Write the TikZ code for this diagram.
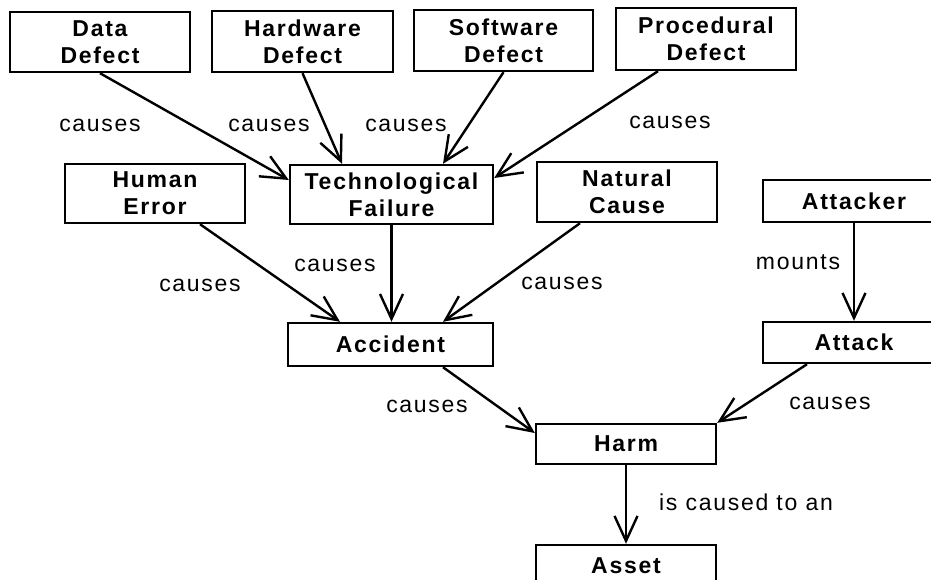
\documentclass[tikz,border=0pt]{standalone}
\usepackage{fontspec}
\setmainfont[LetterSpace=7.5]{Liberation Sans}
\usetikzlibrary{arrows.meta}
\begin{document}
\begin{tikzpicture}[x=1pt,y=-1pt,
  box/.style={draw,line width=2.4pt,inner sep=0pt,align=center,
    font=\bfseries\fontsize{23}{27}\selectfont},
  twoline/.style={box,minimum width=180pt,minimum height=60pt},
  oneline/.style={box,minimum width=180pt,minimum height=42pt},
  lbl/.style={inner sep=0pt,font=\fontsize{23}{27}\selectfont},
  rel/.style={line width=2.4pt,-{Straight Barb[length=25pt,width=23pt]}}]
\clip (0,0) rectangle (931,579);

% defects feeding a technological failure
\node[twoline] (dd) at (100,42) {Data\\Defect};
\node[twoline,minimum width=181pt,minimum height=61pt] (hd) at (302.5,41.5) {Hardware\\Defect};
\node[twoline,minimum width=179pt,minimum height=61pt] (sd) at (503.5,40.5) {Software\\Defect};
\node[twoline,minimum height=62pt] (pd) at (706,39) {Procedural\\Defect};

% direct causes of an accident
\node[twoline,minimum height=59pt] (he) at (155,193.5) {Human\\Error};
\node[twoline,minimum width=203pt,minimum height=59pt] (tf) at (391.5,194.5) {Technological\\Failure};
\node[twoline] (nc) at (627,192) {Natural\\Cause};

% deliberate branch
\node[oneline,minimum width=182pt] (atker) at (854,201) {Attacker};
\node[oneline,minimum width=182pt,minimum height=41pt] (atk) at (854,342.5) {Attack};

% consequences
\node[oneline,minimum width=205pt,minimum height=43pt] (acc) at (390.5,344.5) {Accident};
\node[oneline,minimum height=40pt] (harm) at (626,444) {Harm};
\node[oneline] (asset) at (626,566) {Asset};

% relations
\draw[rel] (dd.south) -- ([yshift=14.5pt]tf.west);
\draw[rel] (hd.south) -- ([xshift=-49.5pt]tf.north);
\draw[rel] (sd.south) -- ([xshift=51.5pt]tf.north);
\draw[rel] ([xshift=-48pt]pd.south) -- ([yshift=16.5pt]tf.east);
\draw[rel] ([xshift=45pt]he.south) -- ([xshift=-50.5pt]acc.north);
\draw[rel] (tf.south) -- (tf.south |- acc.north);
\draw[rel] ([xshift=-47pt]nc.south) -- ([xshift=52.5pt]acc.north);
\draw[rel] ([xshift=52.5pt]acc.south) -- ([yshift=11pt]harm.west);
\draw[rel] ([xshift=-47pt]atk.south) -- (harm.north east);
\draw[rel] (atker.south) -- (atk.north);
\draw[rel] (harm.south) -- (asset.north);

% relation names
\node[lbl] (c1) at (100,125) {causes};
\node[lbl] (c2) at (269,125) {causes};
\node[lbl] (c3) at (406,125) {causes};
\node[lbl] (c4) at (670,122) {causes};
\node[lbl] (c5) at (200,285) {causes};
\node[lbl] (c6) at (335,265) {causes};
\node[lbl] (c7) at (562,283) {causes};
\node[lbl] (c8) at (427,406) {causes};
\node[lbl] (mt) at (798,262) {mounts};
\node[lbl] (c9) at (830,403) {causes};
\node[lbl] (ic) at (746,502) {is caused to an};
\end{tikzpicture}
\end{document}
